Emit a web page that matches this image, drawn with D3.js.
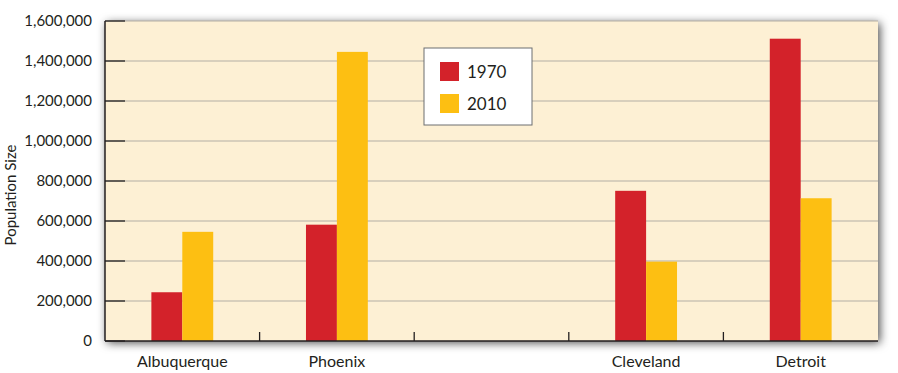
<!DOCTYPE html>
<html>
<head>
<meta charset="utf-8">
<script src="https://cdn.jsdelivr.net/npm/d3@7"></script>
<style>
  body { margin: 0; background: #fff; }
  text { font-family: "Lato", "Open Sans", sans-serif; fill: #231f20; }
</style>
</head>
<body>
<svg id="chart"></svg>
<script>
const cities = ["Albuquerque", "Phoenix", "", "Cleveland", "Detroit"]
const years = ["1970", "2010"]
const pop1970 = [243751, 581562, null, 750903, 1511482]
const pop2010 = [545852, 1445632, null, 396815, 713777]
const yTicks = [0, 200000, 400000, 600000, 800000, 1000000, 1200000, 1400000, 1600000]

let width = 898
let height = 373
let margin = {top: 21, right: 20, bottom: 32, left: 105}
let innerW = width - margin.left - margin.right
let innerH = height - margin.top - margin.bottom

let svg = d3.select("#chart")
    .attr("width", width)
    .attr("height", height)

// drop shadow behind the plot area
let defs = svg.append("defs")
let filter = defs.append("filter").attr("id", "shadow")
    .attr("x", "-5%").attr("y", "-15%").attr("width", "110%").attr("height", "130%")
filter.append("feDropShadow")
    .attr("dx", 2).attr("dy", 2).attr("stdDeviation", 5)
    .attr("flood-color", "#000").attr("flood-opacity", 0.7)

let g = svg.append("g")
    .attr("transform", "translate(" + margin.left + "," + margin.top + ")")

let x = d3.scaleBand().domain(d3.range(cities.length)).range([0, innerW])
let x1 = d3.scaleBand().domain(years).range([0, x.bandwidth()]).paddingInner(0).paddingOuter(1.5)
let y = d3.scaleLinear().domain([0, 1600000]).range([innerH, 0])
let color = d3.scaleOrdinal().domain(years).range(["#d3222a", "#fdbf12"])

g.append("rect")
    .attr("width", innerW).attr("height", innerH)
    .attr("fill", "#fdf0d4")
    .attr("filter", "url(#shadow)")

// gridlines
g.selectAll(".grid")
    .data(yTicks.slice(1))
    .enter()
    .append("line")
    .attr("x1", 0).attr("x2", innerW)
    .attr("y1", d => y(d)).attr("y2", d => y(d))
    .attr("stroke", "#b3ada3").attr("stroke-width", 1.2)

// bars
let data = cities.map((c, i) => ({i: i, values: [pop1970[i], pop2010[i]]}))
let groups = g.selectAll(".city")
    .data(data)
    .enter()
    .append("g")
    .attr("transform", d => "translate(" + x(d.i) + ",0)")

groups.selectAll("rect")
    .data(d => years.map((yr, k) => ({year: yr, value: d.values[k]})).filter(v => v.value != null))
    .enter()
    .append("rect")
    .attr("x", d => x1(d.year))
    .attr("width", x1.bandwidth())
    .attr("y", d => y(d.value))
    .attr("height", d => innerH - y(d.value))
    .attr("fill", d => color(d.year))

// y axis
let yAxis = g.append("g")
    .call(d3.axisLeft(y).tickValues(yTicks).tickSize(0).tickPadding(13).tickFormat(d3.format(",")))
yAxis.select(".domain").remove()
yAxis.selectAll("text").style("font-size", "15px")
g.selectAll(".ytick")
    .data(yTicks)
    .enter()
    .append("line")
    .attr("x1", 0).attr("x2", 20)
    .attr("y1", d => y(d)).attr("y2", d => y(d))
    .attr("stroke", "#231f20").attr("stroke-width", 1.3)

// x axis
let xAxis = g.append("g")
    .attr("transform", "translate(0," + innerH + ")")
    .call(d3.axisBottom(x).tickFormat(i => cities[i]).tickSize(0).tickPadding(15))
xAxis.select(".domain").remove()
xAxis.selectAll("text").style("font-size", "16px")
g.selectAll(".xtick")
    .data(d3.range(1, cities.length))
    .enter()
    .append("line")
    .attr("x1", d => x(d)).attr("x2", d => x(d))
    .attr("y1", innerH).attr("y2", innerH - 9)
    .attr("stroke", "#231f20").attr("stroke-width", 1.3)

// axis lines
g.append("line").attr("x1", 0).attr("x2", 0).attr("y1", 0).attr("y2", innerH)
    .attr("stroke", "#231f20").attr("stroke-width", 1.5)
g.append("line").attr("x1", 0).attr("x2", innerW).attr("y1", innerH).attr("y2", innerH)
    .attr("stroke", "#231f20").attr("stroke-width", 1.5)

svg.append("text")
    .attr("transform", "translate(16," + (margin.top + innerH / 2 + 14) + ") rotate(-90)")
    .attr("text-anchor", "middle")
    .style("font-size", "15px")
    .text("Population Size")

// legend
let legend = svg.append("g").attr("transform", "translate(424,48)")
legend.append("rect")
    .attr("width", 108).attr("height", 77)
    .attr("fill", "#fff").attr("stroke", "#6d6e71").attr("stroke-width", 1)
legend.selectAll(".sw")
    .data(years)
    .enter()
    .append("rect")
    .attr("x", 16).attr("y", (d, i) => 14 + i * 32)
    .attr("width", 19).attr("height", 19)
    .attr("fill", d => color(d))
legend.selectAll(".lt")
    .data(years)
    .enter()
    .append("text")
    .attr("x", 43).attr("y", (d, i) => 30 + i * 32)
    .style("font-size", "17px")
    .text(d => d)
</script>
</body>
</html>
